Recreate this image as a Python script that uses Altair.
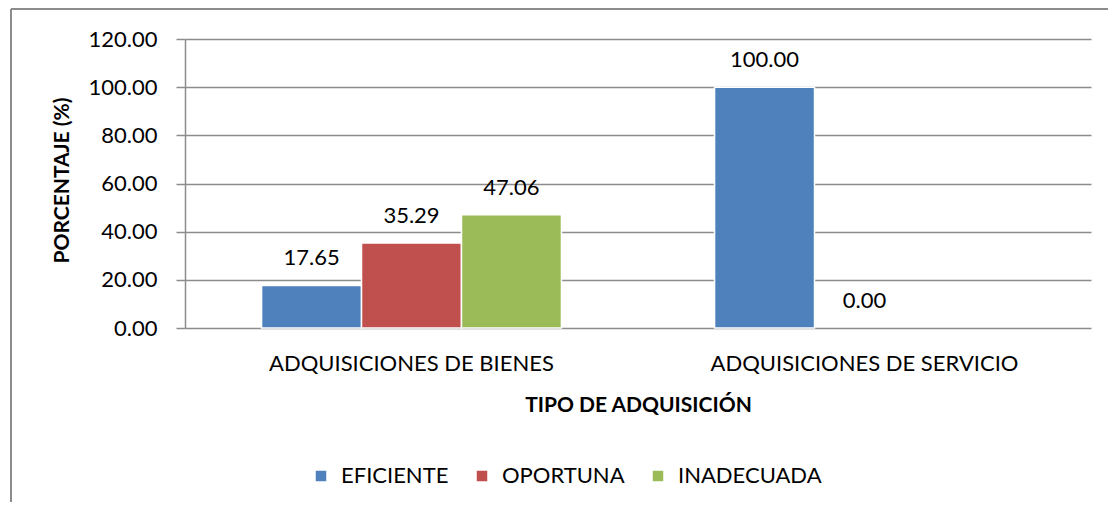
import altair as alt
import pandas as pd

categories = ["ADQUISICIONES DE BIENES", "ADQUISICIONES DE SERVICIO"]
series = ["EFICIENTE", "OPORTUNA", "INADECUADA"]
values_bienes = [17.65, 35.29, 47.06]
values_servicio = [100.00, 0.00, None]
colors = ["#4F81BD", "#C0504D", "#9BBB59"]
y_ticks = [0, 20, 40, 60, 80, 100, 120]

rows = []
for cat, vals in zip(categories, [values_bienes, values_servicio]):
    for s, v in zip(series, vals):
        if v is not None:
            rows.append({"tipo": cat, "serie": s, "valor": v})
df = pd.DataFrame(rows)

FONT = "Lato"
GRAY = "#8c8c8c"
W, H = 906, 289

x_enc = alt.X(
    "tipo:N",
    sort=categories,
    scale=alt.Scale(paddingInner=0.338, paddingOuter=0.169),
    axis=alt.Axis(
        title="TIPO DE ADQUISICIÓN",
        labelAngle=0,
        labelFontSize=22,
        labelFont=FONT,
        labelColor="#000000",
        labelPadding=25,
        labelLimit=0,
        ticks=False,
        domain=False,
        titleFont=FONT,
        titleFontSize=21,
        titleFontWeight="bold",
        titleColor="#000000",
        titleY=83,
        titleBaseline="alphabetic",
    ),
)
xoff_enc = alt.XOffset("serie:N", sort=series, scale=alt.Scale(domain=series, paddingInner=0, paddingOuter=0))
y_enc = alt.Y(
    "valor:Q",
    scale=alt.Scale(domain=[0, 120], nice=False),
    axis=alt.Axis(
        title="PORCENTAJE (%)",
        values=y_ticks,
        format=".2f",
        labelFontSize=22,
        labelFont=FONT,
        labelColor="#000000",
        labelPadding=19,
        tickSize=9,
        tickColor=GRAY,
        tickWidth=1.5,
        domainColor=GRAY,
        domainWidth=1.5,
        grid=True,
        gridColor=GRAY,
        gridWidth=1.5,
        titleFont=FONT,
        titleFontSize=21,
        titleFontWeight="bold",
        titleColor="#000000",
        titleAngle=270,
        titleX=-123,
        titleY=141,
        titleAlign="center",
        titleBaseline="middle",
    ),
)
color_enc = alt.Color(
    "serie:N",
    sort=series,
    scale=alt.Scale(domain=series, range=colors),
    legend=alt.Legend(
        title=None,
        orient="none",
        direction="horizontal",
        legendX=125,
        legendY=426,
        symbolType="square",
        symbolSize=110,
        symbolStrokeWidth=0,
        labelFont=FONT,
        labelFontSize=22,
        labelColor="#000000",
        labelOffset=9,
        columnPadding=22,
        padding=0,
    ),
)

bars = alt.Chart(df).mark_bar(stroke="white").encode(
    x=x_enc,
    xOffset=xoff_enc,
    y=y_enc,
    color=color_enc,
    strokeWidth=alt.condition(alt.datum.valor > 0, alt.value(1.5), alt.value(0)),
)

labels = alt.Chart(df).mark_text(
    baseline="alphabetic", dy=-20, font=FONT, fontSize=22, color="#000000"
).encode(
    x=alt.X("tipo:N", sort=categories),
    xOffset=alt.XOffset("serie:N", sort=series),
    y=alt.Y("valor:Q"),
    text=alt.Text("valor:Q", format=".2f"),
)

border_top = alt.Chart(df).mark_rule(color=GRAY, strokeWidth=2).encode(
    x=alt.value(-174), x2=alt.value(1000), y=alt.value(-30)
)
border_left = alt.Chart(df).mark_rule(color=GRAY, strokeWidth=2).encode(
    x=alt.value(-174), y=alt.value(-30), y2=alt.value(600)
)

chart = alt.layer(bars, labels, border_top, border_left).properties(
    width=W,
    height=H,
    autosize=alt.AutoSizeParams(type="none"),
    padding={"left": 177, "top": 31, "right": 17, "bottom": 174},
    background="white",
).configure_view(stroke=None)

chart.save("out.html", embed_options={"renderer": "svg", "actions": False})
